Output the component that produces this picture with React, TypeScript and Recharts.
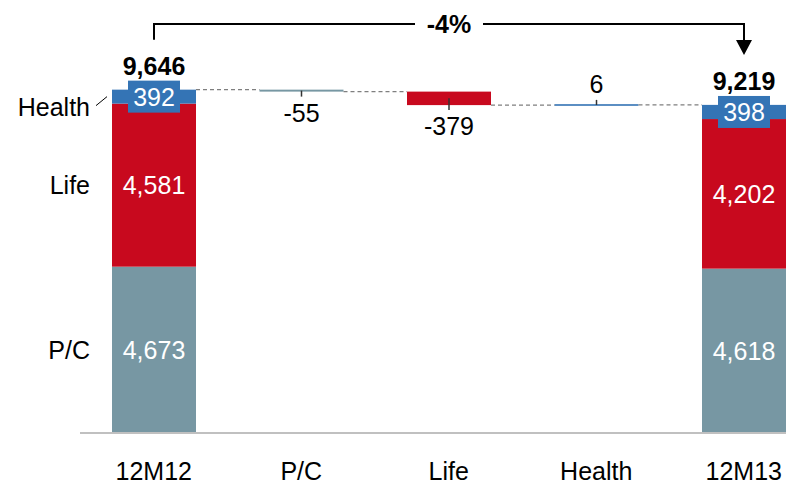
import React from 'react';
import { BarChart, Bar, XAxis, YAxis } from 'recharts';

// ---------- data ----------
const categories = ['12M12', 'P/C', 'Life', 'Health', '12M13'];
const segmentNames = ['P/C', 'Life', 'Health'];
const pcValues = [4673, null, null, null, 4618];
const lifeValues = [4581, null, null, null, 4202];
const healthValues = [392, null, null, null, 398];
const changes = [null, -55, -379, 6, null];
const totals = [9646, null, null, null, 9219];
const changeLabel = '-4%';

// ---------- style ----------
const FONT = '"Liberation Sans", Arial, Helvetica, sans-serif';
const COLORS = ['#7797a3', '#c8091e', '#3474b5'];
const SERIES = ['pc', 'life', 'health'];
const BAR = 84;
const CHART_W = 840;
const CHART_H = 484;
const MARGIN = { top: 8, right: 22.5, bottom: 0, left: 80 };
const BAND = (CHART_W - MARGIN.left - MARGIN.right) / categories.length;
const GAP = BAND - BAR;
const FS = 25;
const BRACKET_Y = 24;

const fmt = (v: number) => v.toLocaleString('en-US');

const segArrays = [pcValues, lifeValues, healthValues];
let level = 0;
const rows = categories.map((name, i) => {
  const row: any = { name, kind: 'total', base: 0, pc: null, life: null, health: null, change: null, total: totals[i] };
  if (changes[i] == null) {
    row.pc = pcValues[i];
    row.life = lifeValues[i];
    row.health = healthValues[i];
    level = segArrays.reduce((a, arr) => a + (arr[i] as number), 0);
  } else {
    const d = changes[i] as number;
    const end = level + d;
    row.kind = 'delta';
    row.change = d;
    row.base = Math.min(level, end);
    row[SERIES[segmentNames.indexOf(name)]] = Math.abs(d);
    level = end;
  }
  return row;
});

const makeShape = (s: number) => (props: any) => {
  const { x, y, width, height, index } = props;
  const row = rows[index];
  const val = row ? row[SERIES[s]] : null;
  if (val == null || x == null || y == null) return <g />;
  const cx = x + width / 2;
  const cy = y + height / 2;
  const parts: any[] = [];
  const h = Math.max(height, 1.6);
  parts.push(<rect key="r" x={x} y={cy - h / 2} width={width} height={h} fill={COLORS[s]} />);
  const txt = { fontFamily: FONT, fontSize: FS, textAnchor: 'middle' as const, dominantBaseline: 'central' as const };
  if (row.kind === 'total') {
    if (s < 2) {
      parts.push(<text key="v" x={cx} y={cy} fill="#ffffff" {...txt}>{fmt(val)}</text>);
    } else {
      parts.push(<rect key="b" x={cx - 26} y={cy - 16} width={52} height={32} fill={COLORS[s]} />);
      parts.push(<text key="v" x={cx} y={cy} fill="#ffffff" {...txt}>{fmt(val)}</text>);
    }
    if (index === 0) {
      const ly = s === 2 ? cy + 10 : cy;
      parts.push(
        <text key="side" x={x - 22} y={ly} fill="#000" fontFamily={FONT} fontSize={FS} textAnchor="end" dominantBaseline="central">
          {segmentNames[s]}
        </text>
      );
      if (s === 2) {
        parts.push(<line key="sl" x1={x - 16} y1={cy + 9} x2={x - 5} y2={cy} stroke="#000" strokeWidth={1} />);
      }
    }
    if (s === 2) {
      parts.push(
        <text key="tot" x={cx} y={y - 24} fill="#000" {...txt} fontWeight="bold">{fmt(row.total)}</text>
      );
      if (index === 0) {
        const mid = cx + 2 * BAND;
        const right = cx + 4 * BAND;
        parts.push(
          <path key="br" d={`M${cx},${y - 50} V${BRACKET_Y} H${mid - 34} M${mid + 34},${BRACKET_Y} H${right}`} fill="none" stroke="#000" strokeWidth={2} />
        );
        parts.push(<text key="pct" x={mid} y={BRACKET_Y} fill="#000" {...txt} fontWeight="bold">{changeLabel}</text>);
      } else {
        const tip = y - 50;
        parts.push(<path key="br" d={`M${cx},${BRACKET_Y - 1} V${tip - 14}`} fill="none" stroke="#000" strokeWidth={2} />);
        parts.push(<path key="ar" d={`M${cx - 8},${tip - 15} L${cx + 8},${tip - 15} L${cx},${tip} Z`} fill="#000" />);
        parts.push(<line key="cn" x1={x - GAP} y1={y} x2={x} y2={y} stroke="#7f7f7f" strokeWidth={1.3} strokeDasharray="4 3" />);
      }
    }
  } else {
    const ly = row.change < 0 ? y : y + height;
    parts.push(<line key="cn" x1={x - GAP} y1={ly} x2={x} y2={ly} stroke="#7f7f7f" strokeWidth={1.3} strokeDasharray="4 3" />);
    if (row.change < 0) {
      parts.push(<line key="tk" x1={cx} y1={cy} x2={cx} y2={y + height + 5} stroke="#333" strokeWidth={1.5} />);
      parts.push(<text key="dl" x={cx} y={y + height + 21} fill="#000" {...txt}>{fmt(row.change)}</text>);
    } else {
      parts.push(<line key="tk" x1={cx} y1={cy} x2={cx} y2={y - 5} stroke="#333" strokeWidth={1.5} />);
      parts.push(<text key="dl" x={cx} y={y - 21} fill="#000" {...txt}>{fmt(row.change)}</text>);
    }
  }
  return <g>{parts}</g>;
};

const Tick = (props: any) => {
  const { x, y, payload } = props;
  return (
    <text x={x} y={y + 38} fill="#000" fontFamily={FONT} fontSize={FS} textAnchor="middle" dominantBaseline="central">
      {payload.value}
    </text>
  );
};

export default function App() {
  return (
    <div style={{ position: 'fixed', left: 0, top: 0, width: 786, height: 484, overflow: 'hidden', background: '#fff' }}>
      <BarChart width={CHART_W} height={CHART_H} data={rows} margin={MARGIN} barSize={BAR}>
        <XAxis
          dataKey="name"
          height={51}
          tickLine={false}
          tickSize={0}
          tickMargin={0}
          axisLine={{ stroke: '#c0c0c0', strokeWidth: 2 }}
          tick={<Tick />}
          interval={0}
        />
        <YAxis hide domain={[0, 11940]} />
        <Bar dataKey="base" stackId="a" fill="#ffffff" fillOpacity={0} isAnimationActive={false} />
        <Bar dataKey="pc" stackId="a" fill={COLORS[0]} shape={makeShape(0)} isAnimationActive={false} />
        <Bar dataKey="life" stackId="a" fill={COLORS[1]} shape={makeShape(1)} isAnimationActive={false} />
        <Bar dataKey="health" stackId="a" fill={COLORS[2]} shape={makeShape(2)} isAnimationActive={false} />
      </BarChart>
    </div>
  );
}
